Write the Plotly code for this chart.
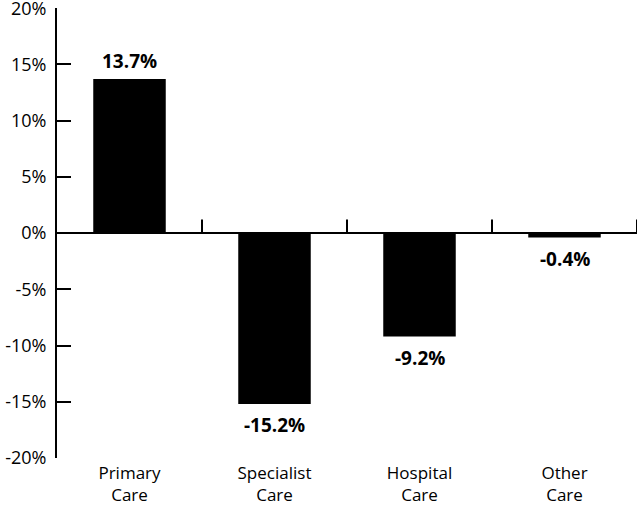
import plotly.graph_objects as go

categories = ["Primary<br>Care", "Specialist<br>Care", "Hospital<br>Care", "Other<br>Care"]
values = [13.7, -15.2, -9.2, -0.4]
value_labels = ["13.7%", "-15.2%", "-9.2%", "-0.4%"]
positions = [0.5, 1.5, 2.5, 3.5]
boundaries = [1, 2, 3, 4]
y_ticks = [-20, -15, -10, -5, 0, 5, 10, 15, 20]
y_tick_labels = ["-20%", "-15%", "-10%", "-5%", "0%", "5%", "10%", "15%", "20%"]

FONT = "Open Sans"

fig = go.Figure()
fig.add_trace(go.Bar(
    x=positions, y=values, width=0.5,
    marker=dict(color="black", line=dict(width=0)),
    hoverinfo="skip",
))

for xp, v, lab in zip(positions, values, value_labels):
    fig.add_annotation(
        x=xp, y=v, xref="x", yref="y", text=lab, showarrow=False,
        yanchor="middle", yshift=18 if v > 0 else -21,
        font=dict(family=FONT, size=19, color="black", weight="bold"),
    )

shapes = [dict(type="line", xref="x", yref="y", x0=0, x1=4, y0=0, y1=0,
               line=dict(color="black", width=2))]
for b in boundaries:
    shapes.append(dict(type="line", xref="x", yref="y", x0=b, x1=b, y0=0, y1=1.2,
                       line=dict(color="black", width=2)))

fig.update_layout(
    width=640, height=506,
    margin=dict(l=57, r=3, t=8, b=48, autoexpand=False),
    plot_bgcolor="white", paper_bgcolor="white",
    showlegend=False,
    shapes=shapes,
    font=dict(family=FONT, size=18, color="black"),
    xaxis=dict(range=[0, 4], tickmode="array", tickvals=positions, ticktext=categories,
               showline=False, showgrid=False, zeroline=False, ticks="",
               automargin=False, ticklabelstandoff=3, ticklabeloverflow="allow",
               tickfont=dict(family=FONT, size=17, color="black")),
    yaxis=dict(range=[-20, 20.02], tickmode="array", tickvals=y_ticks, ticktext=y_tick_labels,
               showline=True, linecolor="black", linewidth=2,
               ticks="inside", ticklen=14, tickwidth=2, tickcolor="black",
               showgrid=False, zeroline=False, automargin=False,
               ticklabelstandoff=5, ticklabeloverflow="allow",
               tickfont=dict(family=FONT, size=18, color="black")),
)

fig.write_html("out.html", config={"displayModeBar": False},
               post_script="document.body.style.margin='0px';")
